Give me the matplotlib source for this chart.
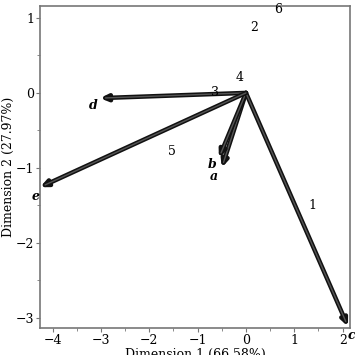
import matplotlib
matplotlib.use("Agg")
import matplotlib.pyplot as plt

plt.rcParams['font.family'] = ['DejaVu Serif']

var_names = ['a', 'b', 'c', 'd', 'e']
var_x = [-0.50, -0.56, 2.11, -3.02, -4.26]
var_y = [-1.00, -0.87, -3.12, -0.07, -1.26]
lab_x = [-0.66, -0.70, 2.19, -3.15, -4.35]
lab_y = [-1.12, -0.96, -3.24, -0.17, -1.39]

obs_names = ['1', '2', '3', '4', '5', '6']
obs_x = [1.37, 0.17, -0.64, -0.14, -1.53, 0.66]
obs_y = [-1.51, 0.88, 0.01, 0.20, -0.78, 1.12]

xlabel = 'Dimension 1 (66.58%)'
ylabel = 'Dimension 2 (27.97%)'

fig = plt.figure(figsize=(3.55, 3.55), dpi=100)
ax = fig.add_axes([0.1127, 0.076, 0.873, 0.907])
ax.set_xlim(-4.26, 2.15)
ax.set_ylim(-3.14, 1.16)

for x, y in zip(var_x, var_y):
    ax.annotate('', xy=(x, y), xytext=(0, 0),
                arrowprops=dict(arrowstyle='-|>,head_length=0.4,head_width=0.18',
                                lw=3.2, color='#111111', shrinkA=0, shrinkB=0))
    ax.annotate('', xy=(x, y), xytext=(0, 0),
                arrowprops=dict(arrowstyle='-', lw=1.0, color='#555555',
                                shrinkA=0, shrinkB=4))

for n, x, y in zip(var_names, lab_x, lab_y):
    ax.text(x, y, n, fontsize=9, style='italic', weight='bold',
            ha='center', va='center', clip_on=False)

for n, x, y in zip(obs_names, obs_x, obs_y):
    ax.text(x, y, n, fontsize=9, ha='center', va='center', clip_on=False)

ax.set_xticks([-4, -3, -2, -1, 0, 1, 2])
ax.set_yticks([-3, -2, -1, 0, 1])
ax.set_xticks([-3.5, -2.5, -1.5, -0.5, 0.5, 1.5], minor=True)
ax.set_yticks([-2.5, -1.5, -0.5, 0.5], minor=True)
ax.tick_params(which='both', direction='out', color='#777777', labelsize=9, pad=1)
ax.tick_params(which='major', length=3)
ax.tick_params(which='minor', length=2)
for s in ax.spines.values():
    s.set_color('#777777')
    s.set_linewidth(1.2)

ax.set_xlabel(xlabel, fontsize=9, labelpad=1)
ax.set_ylabel(ylabel, fontsize=9, labelpad=1)

fig.savefig('out.png', dpi=100)
